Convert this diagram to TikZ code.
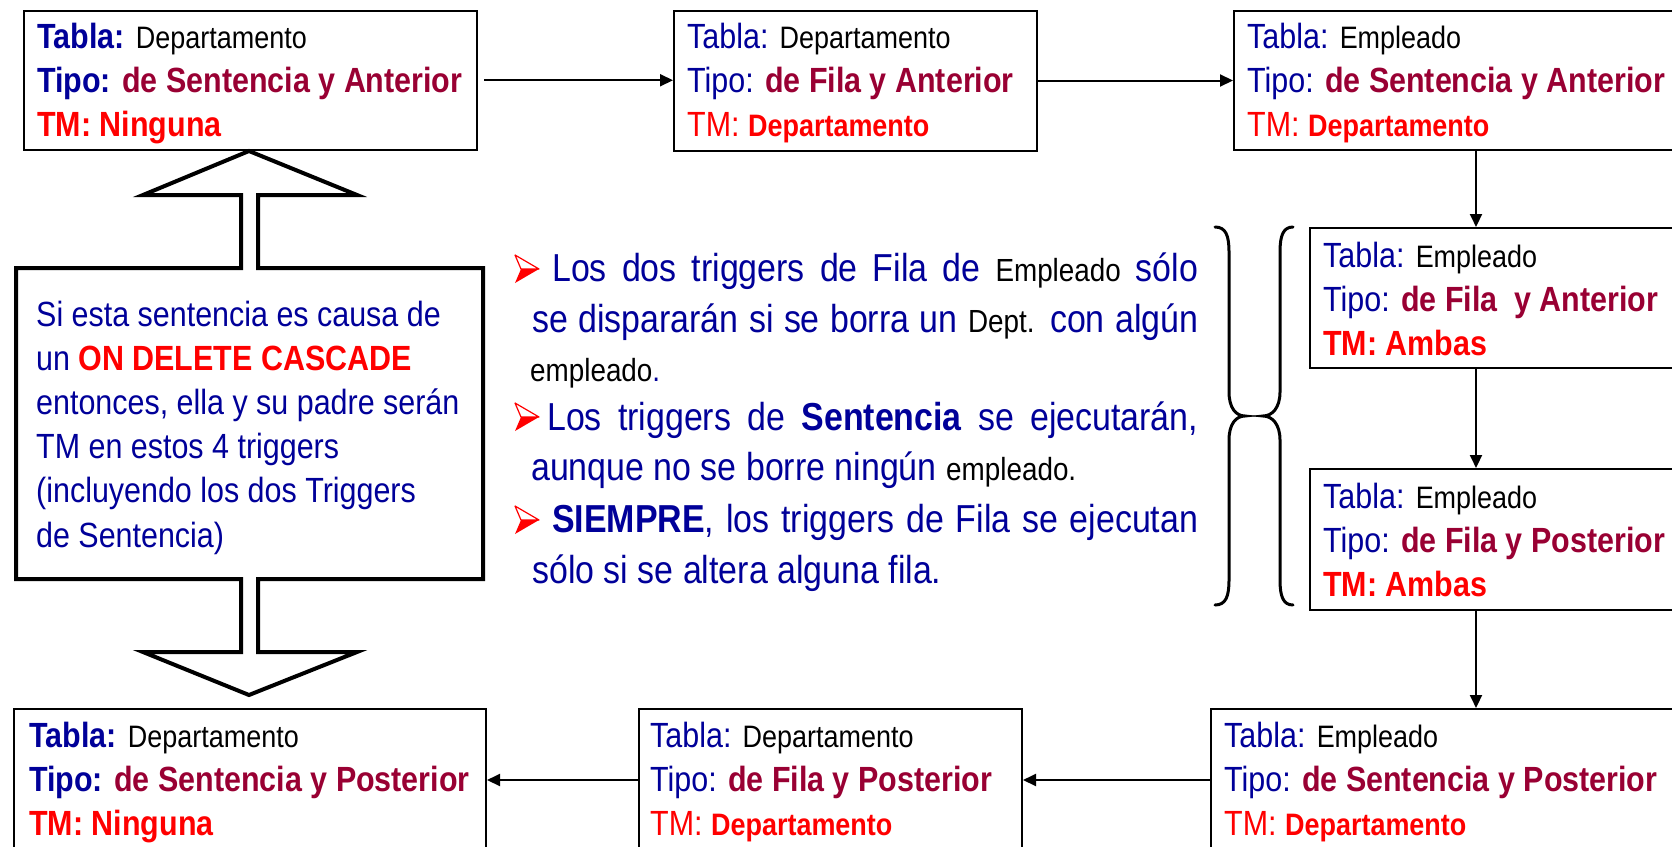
\documentclass[tikz,border=0pt]{standalone}
\usepackage{fontspec}
\setmainfont[FakeStretch=0.87]{Liberation Sans}
\usetikzlibrary{arrows.meta,calc}
\definecolor{navy}{RGB}{0,0,153}
\definecolor{dred}{RGB}{153,0,51}
\definecolor{bred}{RGB}{255,0,0}
\newcommand{\Lg}{\fontsize{35}{44}\selectfont}
\newcommand{\Sm}{\fontsize{31}{44}\selectfont}
\newcommand{\Bt}{\fontsize{39}{50}\selectfont}
\newcommand{\sw}{\fontsize{32}{36}\selectfont\color{black}}
\newcommand{\lab}[1]{\textcolor{navy}{#1}}
\newcommand{\tri}[3]{\begin{tabular}[t]{@{}l@{}}#1\\#2\\#3\end{tabular}}
\begin{document}
\begin{tikzpicture}[x=1pt,y=-1pt,
  tbox/.style={draw, line width=2pt, anchor=north west, inner sep=0pt},
  ttxt/.style={anchor=base west, inner sep=0pt, font=\Lg},
  arr/.style={line width=2pt, -{Triangle[length=13pt,width=12pt]}},
  brc/.style={line width=3pt, line cap=round},
  btxt/.style={anchor=base west, inner sep=0pt, font=\Bt, text=navy},
  bul/.pic={\filldraw[fill=white,draw=bred,line width=1.2pt,line join=round] (0,0) -- (24,14) -- (6,14) -- cycle;
            \fill[bred] (6,14) -- (24,14) -- (0,28) -- cycle;}]
\useasboundingbox (0,0) rectangle (1672,846);
\clip (0,0) rectangle (1672,846);

% boxes
\node[tbox, minimum width=453pt, minimum height=139.5pt] (b1) at (23,9.5) {};
\node[tbox, minimum width=363pt, minimum height=140pt] (b2) at (673,9.5) {};
\node[tbox, minimum width=460pt, minimum height=139.5pt] (b3) at (1233,9.5) {};
\node[tbox, minimum width=380pt, minimum height=140pt] (b4) at (1309,227) {};
\node[tbox, minimum width=380pt, minimum height=141pt] (b5) at (1309,468) {};
\node[tbox, minimum width=480pt, minimum height=142pt] (b6) at (1210,708) {};
\node[tbox, minimum width=383pt, minimum height=142pt] (b7) at (638,708) {};
\node[tbox, minimum width=472pt, minimum height=142pt] (b8) at (13,708) {};

% box texts
\node[ttxt] (t1) at ([shift={(14pt,-39pt)}]b1.north west) {\tri
  {{\bfseries\lab{Tabla:}} {\Sm Departamento}}
  {{\bfseries\lab{Tipo:} \textcolor{dred}{de Sentencia y Anterior}}}
  {{\bfseries\textcolor{bred}{TM: Ninguna}}}};
\node[ttxt] (t2) at ([shift={(14pt,-39pt)}]b2.north west) {\tri
  {\lab{Tabla:} {\Sm Departamento}}
  {\lab{Tipo:} \textcolor{dred}{\bfseries de Fila y Anterior}}
  {\textcolor{bred}{TM: {\Sm\bfseries Departamento}}}};
\node[ttxt] (t3) at ([shift={(14pt,-39pt)}]b3.north west) {\tri
  {\lab{Tabla:} {\Sm Empleado}}
  {\lab{Tipo:} \textcolor{dred}{\bfseries de Sentencia y Anterior}}
  {\textcolor{bred}{TM: {\Sm\bfseries Departamento}}}};
\node[ttxt] (t4) at ([shift={(14pt,-40pt)}]b4.north west) {\tri
  {\lab{Tabla:} {\Sm Empleado}}
  {\lab{Tipo:} \textcolor{dred}{\bfseries de Fila\ \ y Anterior}}
  {\textcolor{bred}{\bfseries TM: Ambas}}};
\node[ttxt] (t5) at ([shift={(14pt,-40pt)}]b5.north west) {\tri
  {\lab{Tabla:} {\Sm Empleado}}
  {\lab{Tipo:} \textcolor{dred}{\bfseries de Fila y Posterior}}
  {\textcolor{bred}{\bfseries TM: Ambas}}};
\node[ttxt] (t6) at ([shift={(14pt,-39pt)}]b6.north west) {\tri
  {\lab{Tabla:} {\Sm Empleado}}
  {\lab{Tipo:} \textcolor{dred}{\bfseries de Sentencia y Posterior}}
  {\textcolor{bred}{TM: {\Sm\bfseries Departamento}}}};
\node[ttxt] (t7) at ([shift={(12pt,-39pt)}]b7.north west) {\tri
  {\lab{Tabla:} {\Sm Departamento}}
  {\lab{Tipo:} \textcolor{dred}{\bfseries de Fila y Posterior}}
  {\textcolor{bred}{TM: {\Sm\bfseries Departamento}}}};
\node[ttxt] (t8) at ([shift={(16pt,-39pt)}]b8.north west) {\tri
  {{\bfseries\lab{Tabla:}} {\Sm Departamento}}
  {{\bfseries\lab{Tipo:} \textcolor{dred}{de Sentencia y Posterior}}}
  {{\bfseries\textcolor{bred}{TM: Ninguna}}}};

% connectors
\coordinate (cx) at (1476,0);
\draw[arr, shorten <=6pt] (b1.east) -- (b1.east -| b2.west);
\draw[arr] (b2.east) -- (b2.east -| b3.west);
\draw[arr] (b3.south -| cx) -- (b4.north -| cx);
\draw[arr] (b4.south -| cx) -- (b5.north -| cx);
\draw[arr] (b5.south -| cx) -- (b6.north -| cx);
\draw[arr] (b6.west) -- (b6.west -| b7.east);
\draw[arr] (b7.west) -- (b7.west -| b8.east);

% big double arrow callout
\draw[line width=4pt, line join=miter] (249,151) -- (357,195) -- (258,195) -- (258,268) -- (483,268)
  -- (483,579) -- (258,579) -- (258,652) -- (357,652) -- (249,695) -- (143,652) -- (241,652)
  -- (241,579) -- (16,579) -- (16,268) -- (241,268) -- (241,195) -- (143,195) -- cycle;
\node[anchor=base west, inner sep=0pt, font=\fontsize{35}{44.2}\selectfont, text=navy] (note) at (36,326)
  {\begin{tabular}[t]{@{}l@{}}Si esta sentencia es causa de\\
   un \textcolor{bred}{\bfseries ON DELETE CASCADE}\\
   entonces, ella y su padre serán\\
   TM en estos 4 triggers\\
   (incluyendo los dos Triggers\\
   de Sentencia)\end{tabular}};

% bullet text
\pic at (515,255) {bul};
\pic at (515,403) {bul};
\pic at (515,506) {bul};
\node[btxt] (l1) at (552,281) {\makebox[646pt][s]{Los dos triggers de Fila de {\sw Empleado} sólo}};
\node[btxt] (l2) at (532,332) {\makebox[666pt][s]{se dispararán si se borra un {\sw Dept.} con algún}};
\node[btxt] (l3) at (530,381) {{\sw empleado\color{navy}.}};
\node[btxt] (l4) at (547,430) {\makebox[651pt][s]{Los triggers de \textbf{Sentencia} se ejecutarán,}};
\node[btxt] (l5) at (531,480) {aunque no se borre ningún {\sw empleado.}};
\node[btxt] (l6) at (552,532) {\makebox[646pt][s]{\textbf{SIEMPRE}, los triggers de Fila se ejecutan}};
\node[btxt] (l7) at (532,583) {sólo si se altera alguna fila.};

% braces
\draw[brc] (1215,227) .. controls (1226,227) and (1229,236) .. (1229,252) -- (1229,392)
  .. controls (1229,408) and (1236,416) .. (1245,416)
  .. controls (1236,416) and (1229,424) .. (1229,440) -- (1229,580)
  .. controls (1229,596) and (1226,605) .. (1215,605);
\draw[brc] (1293,227) .. controls (1283,227) and (1280,236) .. (1280,252) -- (1280,392)
  .. controls (1280,408) and (1272,416) .. (1263,416)
  .. controls (1272,416) and (1280,424) .. (1280,440) -- (1280,580)
  .. controls (1280,596) and (1283,605) .. (1293,605);
\end{tikzpicture}
\end{document}
